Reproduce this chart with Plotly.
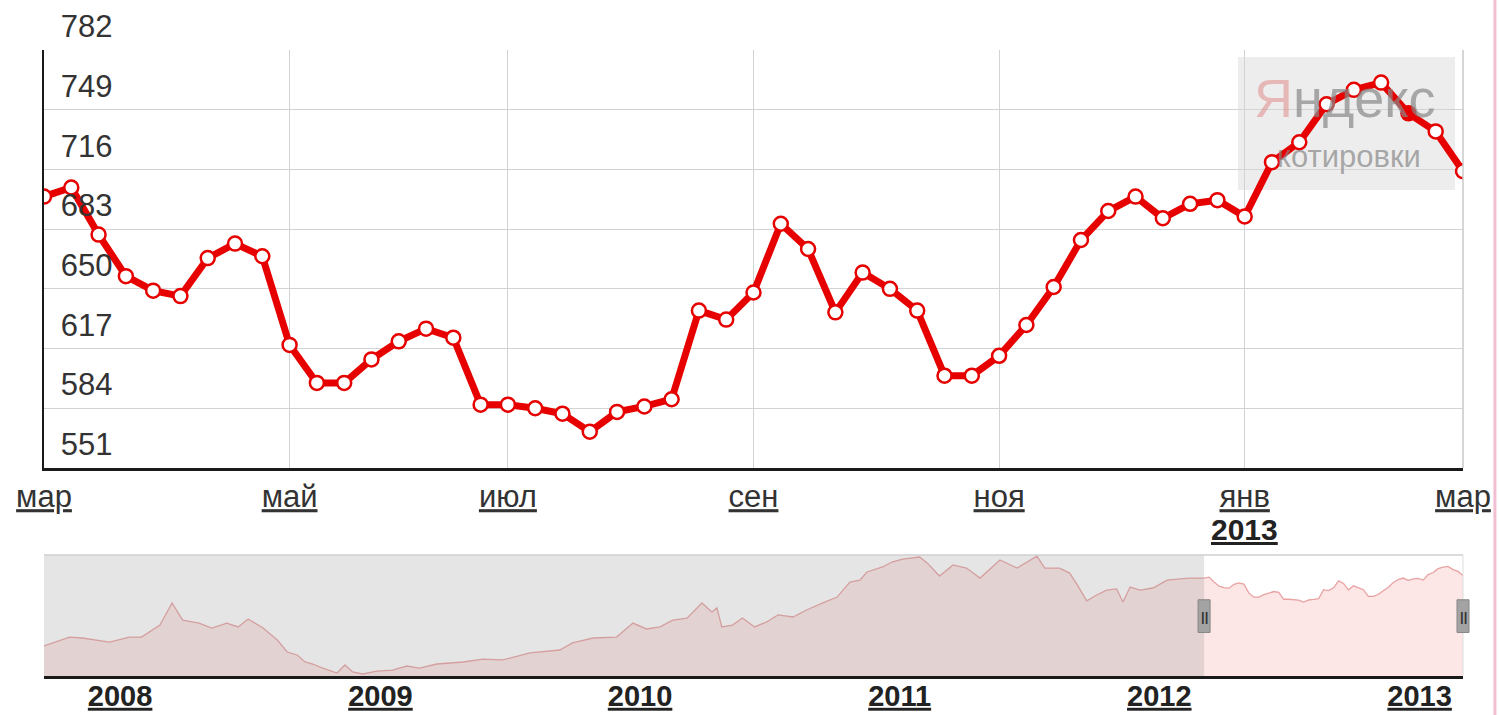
import pandas as pd
import plotly.graph_objects as go

# ---------------- data ----------------
main_start = "2012-03-04"
main_values = [701, 706, 680, 657, 649, 646, 667, 675, 668, 619, 598, 598, 611, 621,
               628, 623, 586, 586, 584, 581, 571, 582, 585, 589, 638, 633, 648, 686,
               672, 637, 659, 650, 638, 602, 602, 613, 630, 651, 677, 693, 701, 689,
               697, 699, 690, 720, 731, 752, 760, 764, 747, 737, 715]
highlight_index = 50

month_keys = [(2012, 3), (2012, 5), (2012, 7), (2012, 9), (2012, 11), (2013, 1), (2013, 3)]
month_labels = ["мар", "май", "июл", "сен", "ноя", "янв", "мар"]
new_year_label = "2013"
new_year_key = (2013, 1)
y_ticks = [551, 584, 617, 650, 683, 716, 749, 782]

hist_dates = ["2007-09-16", "2007-10-22", "2007-11-09", "2007-12-17", "2008-01-14", "2008-01-31",
              "2008-02-26", "2008-03-14", "2008-03-29", "2008-04-21", "2008-05-09", "2008-05-30",
              "2008-06-15", "2008-06-29", "2008-07-20", "2008-08-09", "2008-08-23", "2008-09-06",
              "2008-09-17", "2008-09-28", "2008-10-12", "2008-11-01", "2008-11-12", "2008-11-23",
              "2008-12-07", "2008-12-27", "2009-01-18", "2009-02-07", "2009-02-25", "2009-03-21",
              "2009-04-27", "2009-05-25", "2009-06-22", "2009-07-30", "2009-09-10", "2009-09-28",
              "2009-10-27", "2009-11-29", "2009-12-22", "2010-01-10", "2010-01-29", "2010-02-16",
              "2010-03-08", "2010-03-29", "2010-04-12", "2010-04-19", "2010-04-26", "2010-05-11",
              "2010-05-25", "2010-06-11", "2010-06-28", "2010-07-14", "2010-08-04", "2010-08-23",
              "2010-09-15", "2010-10-05", "2010-10-23", "2010-11-06", "2010-11-16", "2010-12-08",
              "2010-12-21", "2011-01-05", "2011-01-29", "2011-02-09", "2011-02-26", "2011-03-17",
              "2011-04-05", "2011-04-24", "2011-05-22", "2011-06-15", "2011-07-13", "2011-07-24",
              "2011-08-14", "2011-08-28", "2011-09-08", "2011-09-21", "2011-10-05", "2011-10-19",
              "2011-11-02", "2011-11-11", "2011-11-21", "2011-12-05", "2011-12-23", "2012-01-12",
              "2012-01-30", "2012-02-13"]
hist_values = [333, 381, 376, 354, 381, 381, 446, 566, 473, 457, 430, 457, 436, 479, 430, 365,
               300, 284, 246, 235, 213, 186, 230, 192, 181, 197, 202, 224, 213, 235, 246, 262,
               257, 295, 311, 349, 376, 381, 457, 425, 436, 473, 484, 566, 517, 539, 436, 446,
               484, 436, 463, 501, 490, 528, 566, 598, 679, 690, 734, 761, 788, 804, 815, 782,
               712, 772, 755, 701, 799, 755, 820, 755, 755, 728, 663, 577, 609, 636, 642, 571,
               652, 636, 647, 690, 696, 701]
year_ticks = [2008, 2009, 2010, 2011, 2012, 2013]
nav_range = [170, 826]

# ---------------- derived ----------------
main_dates = pd.date_range(main_start, periods=len(main_values), freq="7D")
tick_vals = [next(d for d in main_dates if d.year == y and d.month == m) for y, m in month_keys]
new_year_tick = next(d for d in main_dates if (d.year, d.month) == new_year_key)
nav_x = list(pd.to_datetime(hist_dates)) + list(main_dates)
nav_y = hist_values + main_values

RED = "#e60000"
marker_colors = ["white"] * len(main_values)
marker_colors[highlight_index] = RED
FONT = "Liberation Sans"

fig = go.Figure()
fig.add_trace(go.Scatter(
    x=nav_x, y=nav_y, xaxis="x2", yaxis="y2", mode="lines",
    line=dict(color="rgba(225,135,135,0.75)", width=1.3),
    fill="tozeroy", fillcolor="rgba(250,200,200,0.45)", hoverinfo="skip"))
fig.add_trace(go.Scatter(
    x=main_dates, y=main_values, mode="lines+markers",
    line=dict(color=RED, width=7),
    marker=dict(size=14, color=marker_colors, line=dict(color=RED, width=2.5))))

grid = "#d3d3d3"
fig.update_layout(
    width=1499, height=715,
    margin=dict(l=44, r=36, t=50, b=39),
    plot_bgcolor="white", paper_bgcolor="white", showlegend=False,
    font=dict(family=FONT, color="#333"),
    xaxis=dict(domain=[0, 1], anchor="y", type="date", automargin=False,
               range=[main_dates[0], main_dates[-1]],
               tickvals=tick_vals, ticktext=month_labels,
               showgrid=True, gridcolor=grid, gridwidth=1,
               showline=True, linecolor="#1a1a1a", linewidth=3, ticks="",
               tickfont=dict(family=FONT, size=31, color="#333", lineposition="under"),
               ticklabelstandoff=-1, zeroline=False),
    yaxis=dict(domain=[0.3323, 1], anchor="x", range=[y_ticks[0], y_ticks[-1]], automargin=False,
               tickvals=y_ticks, ticklabelposition="inside top", ticklabeloverflow="allow",
               ticklabelstandoff=19, ticklabelshift=-2,
               tickfont=dict(family=FONT, size=31, color="#333"),
               showline=True, linecolor="#1a1a1a", linewidth=2,
               showgrid=True, gridcolor=grid, gridwidth=1, ticks="", zeroline=False),
    xaxis2=dict(domain=[0, 1], anchor="y2", type="date", automargin=False,
                range=[hist_dates[0], main_dates[-1]],
                tickvals=[f"{y}-01-01" for y in year_ticks],
                ticktext=[f"<b>{y}</b>" for y in year_ticks],
                tickfont=dict(family=FONT, size=29, color="#222", lineposition="under"),
                showgrid=False, showline=True, linecolor="#1a1a1a", linewidth=3,
                ticks="", ticklabelstandoff=-8, zeroline=False),
    yaxis2=dict(domain=[0, 0.1933], anchor="x2", range=nav_range, visible=False,
                automargin=False),
)

shapes = [
    # unselected overlay on navigator
    dict(type="rect", xref="x2", yref="y2 domain", x0=hist_dates[0], x1=main_dates[0],
         y0=0, y1=1, fillcolor="rgba(150,150,150,0.25)", line=dict(width=0), layer="above"),
    # navigator top + right borders
    dict(type="line", xref="x2 domain", yref="y2 domain", x0=0, x1=1, y0=1, y1=1,
         line=dict(color="#cfcfcf", width=1.5)),
    dict(type="line", xref="x2 domain", yref="y2 domain", x0=1, x1=1, y0=0, y1=1,
         line=dict(color="#dddddd", width=1)),
    # main right border
    dict(type="line", xref="x domain", yref="y domain", x0=1, x1=1, y0=0, y1=1,
         line=dict(color="#c8c8c8", width=1.5)),
    # watermark box
    dict(type="rect", xref="x domain", yref="y domain", x0=0.8414, x1=0.9944, y0=0.665, y1=0.983,
         fillcolor="rgba(225,225,225,0.6)", line=dict(width=0), layer="below"),
    # handles
    dict(type="rect", xref="x2", yref="y2 domain", xsizemode="pixel", xanchor=main_dates[0],
         x0=-6, x1=6, y0=0.36, y1=0.63, fillcolor="#a3a3a3", line=dict(color="#858585", width=1)),
    dict(type="rect", xref="x2 domain", yref="y2 domain", xsizemode="pixel", xanchor=1,
         x0=-6, x1=6, y0=0.36, y1=0.63, fillcolor="#a3a3a3", line=dict(color="#858585", width=1)),
    # pink page edge
    dict(type="line", xref="paper", yref="paper", x0=1.0225, x1=1.0225, y0=-0.07, y1=1.09,
         line=dict(color="#f2bfd2", width=3)),
]
fig.update_layout(shapes=shapes)

annotations = [
    dict(xref="x", yref="y domain", x=new_year_tick, y=-0.148, xanchor="center", yanchor="middle",
         showarrow=False, text=f"<b>{new_year_label}</b>",
         font=dict(family=FONT, size=30, color="#222", lineposition="under")),
    dict(xref="x domain", yref="y domain", x=0.917, y=0.885, xanchor="center", yanchor="middle",
         showarrow=False,
         text="<span style='color:rgba(225,140,140,0.8)'>Я</span>ндекс",
         font=dict(family=FONT, size=54, color="rgba(135,135,135,0.7)")),
    dict(xref="x domain", yref="y domain", x=0.92, y=0.745, xanchor="center", yanchor="middle",
         showarrow=False,
         text="котировки", font=dict(family=FONT, size=31, color="rgba(135,135,135,0.7)")),
    dict(xref="x2", yref="y2 domain", x=main_dates[0], y=0.495, showarrow=False,
         xanchor="center", yanchor="middle",
         text="<b>||</b>", font=dict(family=FONT, size=13, color="#333")),
    dict(xref="x2 domain", yref="y2 domain", x=1, y=0.495, showarrow=False,
         xanchor="center", yanchor="middle",
         text="<b>||</b>", font=dict(family=FONT, size=13, color="#333")),
]
fig.update_layout(annotations=annotations)

fig.write_html("out.html", config={"displayModeBar": False},
               post_script="document.body.style.margin='0';")
